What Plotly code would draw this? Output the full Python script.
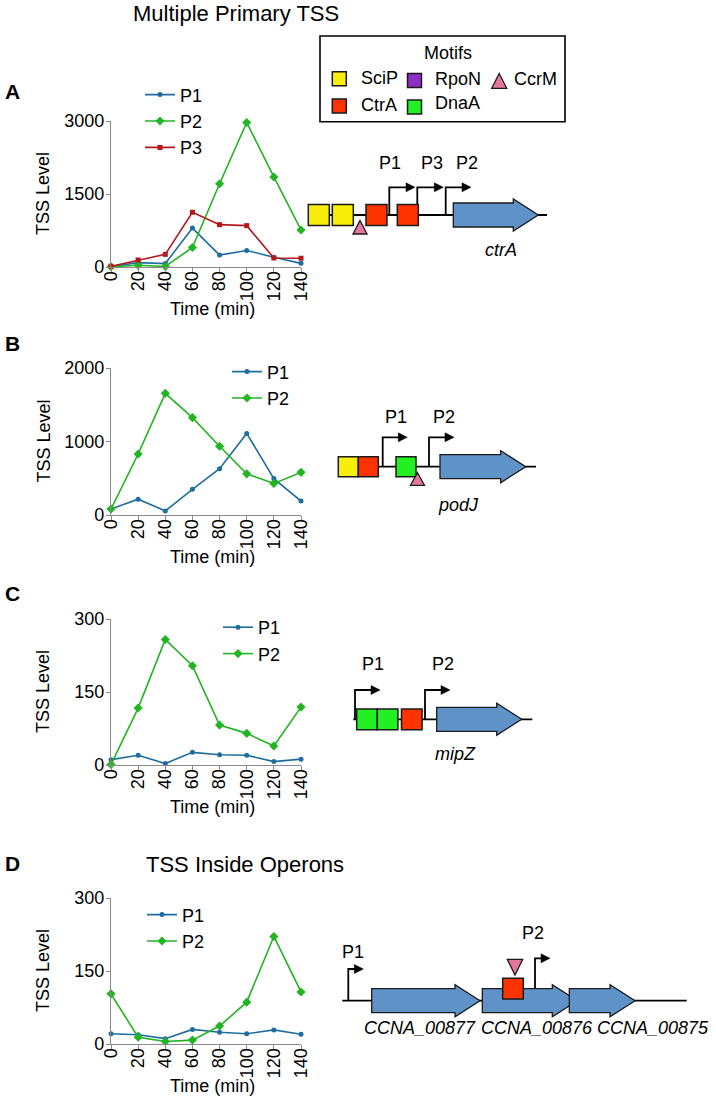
import plotly.graph_objects as go

# ---------------- data ----------------
time_min = [0, 20, 40, 60, 80, 100, 120, 140]
time_ticks = [0, 20, 40, 60, 80, 100, 120, 140]

ctrA_P1 = [10, 90, 70, 800, 245, 340, 200, 75]
ctrA_P2 = [5, 35, 10, 400, 1710, 2970, 1850, 760]
ctrA_P3 = [15, 145, 260, 1125, 870, 850, 185, 180]

podJ_P1 = [80, 215, 55, 350, 630, 1110, 495, 190]
podJ_P2 = [80, 830, 1655, 1325, 935, 560, 430, 580]

mipZ_P1 = [11, 20, 3, 26, 21, 20, 7, 12]
mipZ_P2 = [1, 117, 258, 204, 82, 65, 39, 119]

oper_P1 = [21, 19, 11, 30, 24, 21, 29, 20]
oper_P2 = [103, 14, 5, 8, 37, 86, 221, 107]

yticks_A = [0, 1500, 3000]
yticks_B = [0, 1000, 2000]
yticks_C = [0, 150, 300]
yticks_D = [0, 150, 300]

# ---------------- layout helpers ----------------
W, H = 716, 1102
def fx(x):
    return x / W
def fy(y):
    return 1 - y / H

FONT = "Arial, 'Liberation Sans', Helvetica, sans-serif"
BLUE = '#1f6d9f'
GREEN = '#22b422'
RED = '#b3171c'
AXC = '#8a8a8a'
YEL = '#f7ef0a'
MRED = '#ff3300'
MGRN = '#22f022'
PURP = '#8e2ec6'
PINK = '#e5779e'
GENE = '#5f93c8'

fig = go.Figure()

panels = [
    dict(top=121, bottom=267, yticks=yticks_A, legend=(140, 76.4),
         series=[('P1', ctrA_P1, BLUE, 'circle', 5),
                 ('P2', ctrA_P2, GREEN, 'diamond', 7),
                 ('P3', ctrA_P3, RED, 'square', 5)]),
    dict(top=368, bottom=515, yticks=yticks_B, legend=(227, 353.4),
         series=[('P1', podJ_P1, BLUE, 'circle', 5),
                 ('P2', podJ_P2, GREEN, 'diamond', 7)]),
    dict(top=619, bottom=765, yticks=yticks_C, legend=(218, 609),
         series=[('P1', mipZ_P1, BLUE, 'circle', 5),
                 ('P2', mipZ_P2, GREEN, 'diamond', 7)]),
    dict(top=898, bottom=1044, yticks=yticks_D, legend=(142, 896.4),
         series=[('P1', oper_P1, BLUE, 'circle', 5),
                 ('P2', oper_P2, GREEN, 'diamond', 7)]),
]

annotations = []
shapes = []

for i, p in enumerate(panels, start=1):
    sfx = '' if i == 1 else str(i)
    lg = 'legend' + sfx
    for name, vals, col, sym, ms in p['series']:
        fig.add_trace(go.Scatter(
            x=time_min, y=vals, name=name, mode='lines+markers',
            line=dict(color=col, width=1.6),
            marker=dict(symbol=sym, size=ms, color=col),
            xaxis='x' + sfx, yaxis='y' + sfx, legend=lg,
            cliponaxis=False, hoverinfo='skip'))
    axis_common = dict(showline=True, linecolor=AXC, linewidth=1.2,
                       ticks='outside', ticklen=4, tickcolor=AXC, tickwidth=1.2,
                       showgrid=False, zeroline=False, fixedrange=True, automargin=False,
                       tickfont=dict(size=18, color='black', family=FONT))
    fig.update_layout(**{
        'xaxis' + sfx: dict(axis_common, domain=[fx(111), fx(301)], range=[0, 140],
                            tickvals=time_ticks, ticktext=[str(t) for t in time_ticks],
                            tickangle=-90, anchor='y' + sfx, ticklabelstandoff=-8),
        'yaxis' + sfx: dict(axis_common, domain=[fy(p['bottom']), fy(p['top'])],
                            range=[0, p['yticks'][-1]], tickvals=p['yticks'],
                            anchor='x' + sfx, ticklabelstandoff=-2),
        lg: dict(x=fx(p['legend'][0]), y=fy(p['legend'][1]), xanchor='left', yanchor='top',
                 bgcolor='rgba(0,0,0,0)', borderwidth=0, itemwidth=30,
                 font=dict(size=18, family=FONT, color='black'), tracegroupgap=0),
    })
    cy = (p['top'] + p['bottom']) / 2
    annotations.append(dict(text='TSS Level', x=fx(43), y=fy(cy), textangle=-90,
                            font=dict(size=18)))
    annotations.append(dict(text='Time (min)', x=fx(212), y=fy(p['bottom'] + 41.5),
                            font=dict(size=18)))

for letter, y in [('A', 92), ('B', 343), ('C', 593), ('D', 863)]:
    annotations.append(dict(text='<b>%s</b>' % letter, x=fx(12), y=fy(y), font=dict(size=21)))
annotations.append(dict(text='Multiple Primary TSS', x=fx(236), y=fy(13), font=dict(size=22)))
annotations.append(dict(text='TSS Inside Operons', x=fx(245), y=fy(864), font=dict(size=22)))

# ---------------- gene diagram helpers ----------------
def P(x, y):
    return '%.5f,%.5f' % (fx(x), fy(y))

def line(pts, width=1.8, color='black'):
    d = 'M' + ' L'.join(P(x, y) for x, y in pts)
    shapes.append(dict(type='path', path=d, xref='paper', yref='paper',
                       line=dict(color=color, width=width), layer='above'))

def poly(pts, fill, width=1.3, color='#1a1a1a'):
    d = 'M' + ' L'.join(P(x, y) for x, y in pts) + ' Z'
    shapes.append(dict(type='path', path=d, xref='paper', yref='paper',
                       fillcolor=fill, line=dict(color=color, width=width), layer='above'))

def square(x0, y0, size, fill):
    poly([(x0, y0), (x0 + size, y0), (x0 + size, y0 + size), (x0, y0 + size)], fill, width=1.5)

def tri_up(cx, apex, base, hw):
    poly([(cx, apex), (cx + hw, base), (cx - hw, base)], PINK, width=1.3)

def tri_down(cx, top, apex, hw):
    poly([(cx - hw, top), (cx + hw, top), (cx, apex)], PINK, width=1.3)

def gene(x0, tip, base, body=12, head=16, hl=25):
    xh = tip - hl
    poly([(x0, base - body), (xh, base - body), (xh, base - head), (tip, base),
          (xh, base + head), (xh, base + body), (x0, base + body)], GENE, width=1.3)

def tss(x, y0, ytop, xend):
    line([(x, y0), (x, ytop), (xend - 8, ytop)], width=1.8)
    poly([(xend - 9, ytop - 4.5), (xend, ytop), (xend - 9, ytop + 4.5)], 'black', width=0.5, color='black')

def text(t, x, y, size=18, anchor='center', italic=False):
    if italic:
        t = '<i>%s</i>' % t
    annotations.append(dict(text=t, x=fx(x), y=fy(y), xanchor=anchor, font=dict(size=size)))

# ---------- motif legend box ----------
shapes.append(dict(type='rect', xref='paper', yref='paper', x0=fx(320), x1=fx(565),
                   y0=fy(121.7), y1=fy(36), line=dict(color='black', width=1.6), layer='above'))
text('Motifs', 447.7, 53)
square(332.3, 71.7, 14, YEL); text('SciP', 359, 78, anchor='left')
square(332.3, 99, 14, MRED); text('CtrA', 359, 104.5, anchor='left')
square(407.5, 73.5, 14, PURP); text('RpoN', 433, 78.5, anchor='left')
square(407.5, 100, 14, MGRN); text('DnaA', 433, 103.5, anchor='left')
tri_up(499.2, 73.5, 88.3, 7.5); text('CcrM', 511.5, 79, anchor='left')

# ---------- A: ctrA ----------
bA = 215
line([(308, bA), (547, bA)])
tss(389.3, bA, 187.3, 415)
tss(417.3, bA, 187.3, 443.3)
tss(445.7, bA, 187.3, 471)
for x0, c in [(308.3, YEL), (332.3, YEL), (366, MRED), (397.3, MRED)]:
    square(x0, bA - 10.5, 21, c)
tri_up(360, 220.5, 234, 7)
gene(453.3, 538.3, bA)
text('P1', 390, 163.3); text('P3', 431.7, 163.3); text('P2', 466.7, 163.3)
text('ctrA', 501, 250, italic=True)

# ---------- B: podJ ----------
bB = 466.7
line([(338, bB), (536, bB)])
tss(382.7, bB, 437.3, 407.3)
tss(429, bB, 437.3, 454)
for x0, c in [(338.3, YEL), (358.3, MRED), (396, MGRN)]:
    square(x0, bB - 10, 20, c)
tri_up(417.5, 472.7, 485.3, 7)
gene(440, 525.7, bB)
text('P1', 395.5, 416.7); text('P2', 444, 416.7)
text('podJ', 458.3, 505, italic=True)

# ---------- C: mipZ ----------
bC = 719.3
line([(353.3, bC), (532.3, bC)])
tss(355, bC, 690, 380)
tss(425, bC, 690, 450)
for x0, c in [(356.7, MGRN), (377.3, MGRN), (401.5, MRED)]:
    square(x0, bC - 10.2, 20.6, c)
gene(436.7, 521.7, bC)
text('P1', 373.3, 664.3); text('P2', 442.7, 664.3)
text('mipZ', 455, 754, italic=True)

# ---------- D: operon ----------
bD = 1000.7
line([(342.3, bD), (686.7, bD)])
tss(348.3, bD, 969, 363.3)
gene(371.7, 480, bD)
gene(482.3, 577.3, bD)
gene(569.3, 635, bD)
tss(535, bD - 12.7, 958.3, 550)
square(502.7, 978.3, 20.6, MRED)
tri_down(515, 959.3, 975, 7.7)
text('P1', 353.3, 951.7); text('P2', 533.3, 933.3)
text('CCNA_00877', 420, 1028.3, italic=True)
text('CCNA_00876', 536.7, 1028.3, italic=True)
text('CCNA_00875', 653.3, 1028.3, italic=True)

for a in annotations:
    a.setdefault('xref', 'paper')
    a.setdefault('yref', 'paper')
    a.setdefault('showarrow', False)
    a.setdefault('xanchor', 'center')
    a.setdefault('yanchor', 'middle')
    f = a.setdefault('font', {})
    f.setdefault('family', FONT)
    f.setdefault('color', 'black')

fig.update_layout(
    width=W, height=H, margin=dict(l=0, r=0, t=0, b=0, pad=0, autoexpand=False),
    paper_bgcolor='white', plot_bgcolor='white',
    font=dict(family=FONT, color='black', size=18),
    annotations=annotations, shapes=shapes, hovermode=False,
)

fig.write_html("out.html", config={'displayModeBar': False},
               post_script="document.body.style.margin='0px';document.body.style.overflow='hidden';")
